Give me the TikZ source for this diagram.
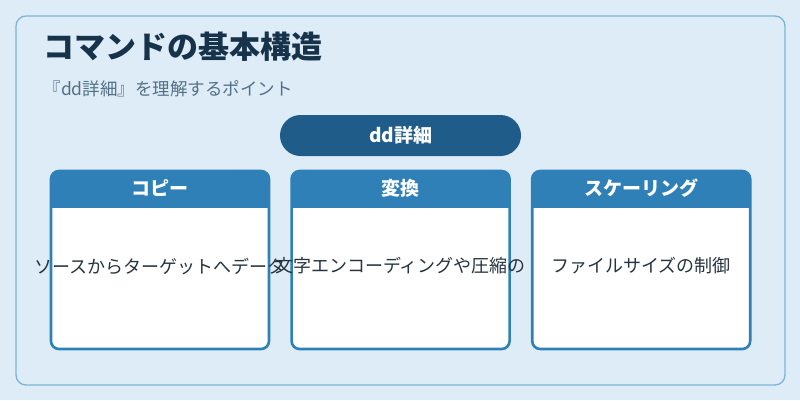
\documentclass[tikz,border=0pt]{standalone}
\usepackage{fontspec}
\setmainfont{Noto Sans CJK JP}
\usepackage{xcolor}
\usepackage{tikz}
\usetikzlibrary{positioning}
\definecolor{bg}{HTML}{DDECF7}
\definecolor{frame}{HTML}{7DB4D7}
\definecolor{ink}{HTML}{17334A}
\definecolor{muted}{HTML}{557086}
\definecolor{navy}{HTML}{1F5C89}
\definecolor{head}{HTML}{2E80B6}
\definecolor{body}{HTML}{26343F}
\tikzset{
  panel/.style={draw=frame, fill=bg, line width=1.3pt, rounded corners=10pt},
  pill/.style={fill=navy, rounded corners=20.5pt, minimum width=241pt, minimum height=41pt,
    text=white, font=\bfseries\fontsize{19}{22}\selectfont},
  card/.style={draw=head, fill=white, line width=2.6pt, rounded corners=8pt,
    minimum width=218pt, minimum height=178pt,
    path picture={\fill[head, sharp corners] (path picture bounding box.north west)
      rectangle ([yshift=-37pt]path picture bounding box.north east);}},
  headtxt/.style={text=white, font=\bfseries\fontsize{19}{22}\selectfont},
  bodytxt/.style={text=body, font=\fontsize{18}{20}\selectfont},
  ttl/.style={text=ink, anchor=west, font=\bfseries\fontsize{31}{34}\selectfont},
  subttl/.style={text=muted, anchor=west, font=\fontsize{17.5}{20}\selectfont},
}
\begin{document}
\begin{tikzpicture}[x=1pt, y=-1pt]
  \useasboundingbox[fill=bg] (0,0) rectangle (800,400);
  \draw[panel] (16,16) rectangle (785,385);

  \node[ttl] (title) at (40,47) {コマンドの基本構造};
  \node[subttl] (subtitle) at (40,89) {『dd詳細』を理解するポイント};

  \node[pill] (dd) at (400.5,135.5) {dd詳細};

  % three cards
  \node[card] (copy) at (160,260) {};
  \node[card, right=20pt of copy] (conv) {};
  \node[card, right=20pt of conv] (scale) {};

  \node[headtxt] (copyh) at ([yshift=-18.5pt]copy.north) {コピー};
  \node[headtxt] (convh) at ([yshift=-18.5pt]conv.north) {変換};
  \node[headtxt] (scaleh) at ([yshift=-18.5pt]scale.north) {スケーリング};

  \node[bodytxt] (copyb) at ([yshift=-6pt]copy.center) {ソースからターゲットへデータ};
  \node[bodytxt] (convb) at ([yshift=-6pt]conv.center) {文字エンコーディングや圧縮の};
  \node[bodytxt] (scaleb) at ([yshift=-6pt]scale.center) {ファイルサイズの制御};
\end{tikzpicture}
\end{document}
